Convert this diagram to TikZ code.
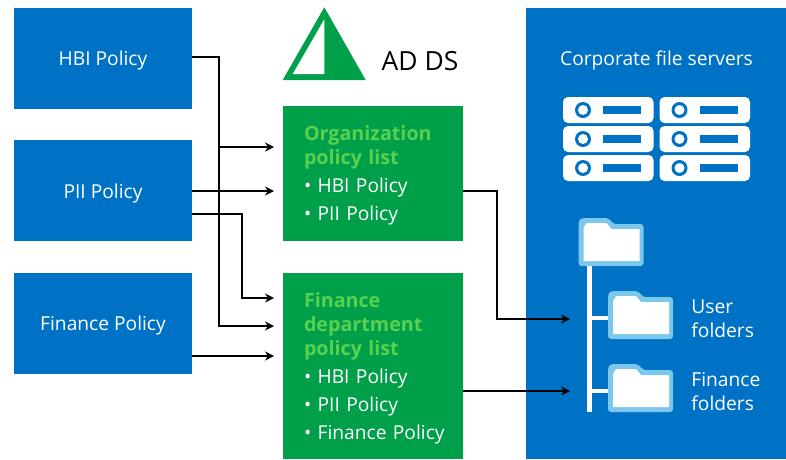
\documentclass[tikz,border=0pt]{standalone}
\usepackage{fontspec}
\usetikzlibrary{arrows.meta}
\setmainfont{Open Sans}
\definecolor{msblue}{HTML}{0072C6}
\definecolor{msgreen}{HTML}{00A04A}
\definecolor{titlegreen}{HTML}{5AD14E}
\definecolor{folderblue}{HTML}{7CC7EC}
\newcommand{\listtitle}{\color{titlegreen}\fontsize{19.7}{24}\selectfont\bfseries\rule{0pt}{19pt}}
\tikzset{
    folder/.pic={
        \fill[folderblue,rounded corners=3pt] (0,8) -- (0,3) -- (3,0) -- (30,0) -- (35,6) -- (65,6) -- (65,48) -- (0,48) -- cycle;
        \fill[white] (5,10) -- (8,5) -- (28,5) -- (33,11) -- (61,11) -- (61,43) -- (5,43) -- cycle;
    }
}
\begin{document}
\begin{tikzpicture}[x=1pt,y=-1pt,->,>={Stealth[length=9pt,width=9pt]},node distance=132.75pt,thick,
    policy node/.style={rectangle,fill=msblue,text=white,minimum width=178pt,minimum height=101pt,inner sep=0pt,text depth=0pt,font=\fontsize{19.2}{24}\selectfont},
    list node/.style={rectangle,fill=msgreen,text=white,minimum width=180pt,inner sep=0pt,text width=138pt,align=left,font=\fontsize{19.2}{24}\selectfont},
    link/.style={draw=black,line width=2.6pt},
    blue text/.style={text=white,inner sep=0pt,font=\fontsize{19.2}{24}\selectfont},
    tree/.style={-,draw=white,line width=4.5pt}]
    \useasboundingbox (0,0) rectangle (786,459);

    \node[policy node] (hbi) at (103,58) {HBI Policy};
    \node[policy node] (pii) [below of=hbi] {PII Policy};
    \node[policy node] (fin) [below of=pii] {Finance Policy};

    \node[list node,minimum height=135pt] (org) at (373,173.5) {{\listtitle Organization\\policy list}\\[4pt]• HBI Policy\\[4pt]• PII Policy};
    \node[list node,minimum height=186pt] (dept) at (373,366) {{\listtitle Finance\\department\\policy list}\\[4pt]• HBI Policy\\[4pt]• PII Policy\\[4pt]\mbox{• Finance Policy}};

    % AD DS triangle
    \fill[msgreen] (324.3,7.3) -- (365.7,80) -- (282.7,80) -- cycle;
    \fill[white] (324.3,19.3) -- (324.3,74) -- (292.7,74) -- cycle;
    \node[inner sep=0pt,font=\fontsize{26.4}{30}\selectfont] (adds) at (420,61) {AD DS};

    % file servers panel
    \node[rectangle,fill=msblue,minimum width=260pt,minimum height=451pt,inner sep=0pt] (servers) at (656,233.5) {};
    \node[blue text] (title) at (656.5,60) {Corporate file servers};
    \foreach \x in {563,659.5}
        \foreach \y in {97,126,155} {
            \fill[white,rounded corners=5pt] (\x,\y) rectangle (\x+90.5,\y+26);
            \fill[msblue] (\x+20,\y+13) circle (8);
            \fill[white] (\x+20,\y+13) circle (5);
            \fill[msblue] (\x+40,\y+9) rectangle (\x+78,\y+17);
        }

    % folder tree
    \coordinate (top) at (589.5,264);
    \coordinate (bottom) at (589.5,412);
    \coordinate (user) at (608,318);
    \coordinate (finfold) at (608,391);
    \draw[tree] (top) -- (bottom);
    \draw[tree] (user) -- (user -| top);
    \draw[tree] (finfold) -- (finfold -| top);
    \pic at (578.5,218) {folder};
    \pic at (608,291) {folder};
    \pic at (608,364) {folder};
    \node[blue text,align=left,anchor=west] (userl) at (691,319) {User\\folders};
    \node[blue text,align=left,anchor=west] (finl) at (691,392) {Finance\\folders};

    % targets of the arrows
    \coordinate (t1) at (274,147);
    \coordinate (t2) at (274,191);
    \coordinate (t3) at (274,298);
    \coordinate (t4) at (274,326);
    \coordinate (t5) at (274,356);
    \coordinate (t6) at (570,319);
    \coordinate (t7) at (570,391);
    \coordinate (hbiout) at (192,57);
    \coordinate (piiout) at (192,214);
    \coordinate (split) at (219,147);

    \draw[link] (hbiout) -- (219,57) -- (219,326) -- (t4);
    \draw[link] (split) -- (t1);
    \draw[link] (pii.east |- t2) -- (t2);
    \draw[link] (piiout) -- (242,214) -- (242,298) -- (t3);
    \draw[link] (fin.east |- t5) -- (t5);
    \draw[link] (org.east |- t2) -- (497,191) -- (497,319) -- (t6);
    \draw[link] (dept.east |- t7) -- (t7);
\end{tikzpicture}
\end{document}
